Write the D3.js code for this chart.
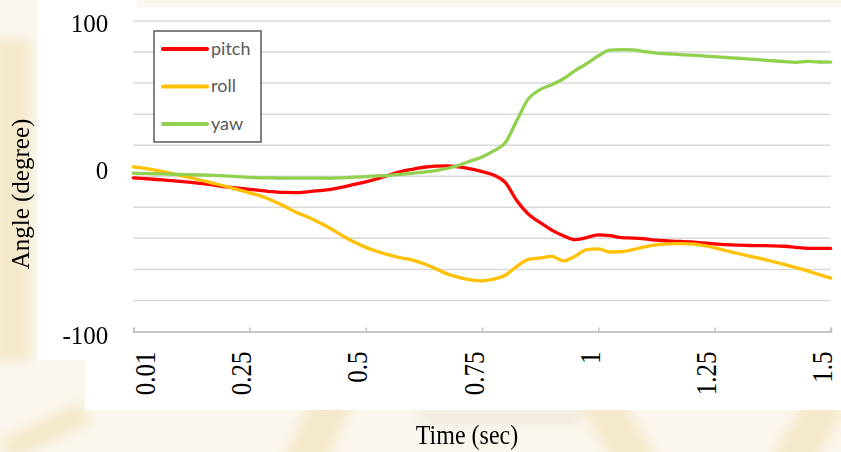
<!DOCTYPE html>
<html>
<head>
<meta charset="utf-8">
<script src="https://cdn.jsdelivr.net/npm/d3@7"></script>
<style>
  html, body { margin: 0; padding: 0; background: #fbf7ee; }
  svg { display: block; }
</style>
</head>
<body>
<script>
// Sample times (s) along the horizontal axis
const times = d3.range(0, 61).map(i => +(i * 0.025).toFixed(3));

// Attitude angles in degrees, one value per sample time
const pitch = [
  -1.0, -1.5, -2.1, -2.7, -3.3, -4.0, -4.7, -5.8, -6.9, -7.7,
  -8.4, -9.2, -9.9, -10.4, -10.5, -10.0, -9.3, -8.4, -7.0, -5.3,
  -3.6, -1.6, 0.8, 3.0, 4.5, 5.8, 6.5, 6.7, 6.0, 4.7,
  3.0, 0.8, -4.0, -15.8, -24.5, -29.8, -34.7, -38.3, -40.8, -39.5,
  -37.8, -38.2, -39.5, -39.8, -40.3, -41.2, -41.7, -42.0, -42.3, -43.0,
  -43.6, -44.1, -44.4, -44.6, -44.7, -44.8, -45.1, -45.8, -46.4, -46.4,
  -46.4
];
const roll = [
  6.0, 5.0, 3.8, 2.3, 0.6, -1.1, -2.9, -4.7, -6.6, -8.6,
  -10.7, -12.8, -15.8, -19.3, -23.2, -26.2, -29.8, -33.8, -38.3, -42.4,
  -45.8, -48.5, -50.6, -52.5, -54.0, -56.4, -59.5, -62.9, -65.1, -66.7,
  -67.4, -66.3, -63.8, -58.0, -53.5, -52.6, -51.6, -54.5, -51.5, -47.3,
  -46.8, -48.8, -48.6, -47.2, -45.5, -44.2, -43.5, -43.4, -43.5, -44.6,
  -46.0, -48.0, -49.7, -51.4, -53.0, -54.9, -56.8, -58.8, -60.9, -63.3,
  -65.6
];
const yaw = [
  2.0, 1.8, 1.6, 1.4, 1.2, 1.0, 0.8, 0.6, 0.3, -0.2,
  -0.7, -1.0, -1.1, -1.2, -1.2, -1.2, -1.2, -1.3, -1.0, -0.6,
  -0.2, 0.2, 0.6, 1.2, 1.9, 2.6, 3.6, 5.0, 7.0, 9.8,
  12.4, 16.3, 21.5, 36.0, 50.0, 55.8, 59.0, 62.8, 68.0, 72.5,
  77.5, 81.3, 81.6, 81.4, 80.2, 79.3, 78.9, 78.4, 78.0, 77.6,
  77.0, 76.5, 76.0, 75.5, 75.0, 74.4, 73.9, 73.4, 74.0, 73.6,
  73.5
];

const seriesNames = ["pitch", "roll", "yaw"];
const seriesColors = ["#ff0000", "#ffc000", "#92d050"];
const seriesValues = [pitch, roll, yaw];

// Axis ticks
const xTickValues = [0, 0.25, 0.5, 0.75, 1, 1.25, 1.5];
const xTickLabels = ["0.01", "0.25", "0.5", "0.75", "1", "1.25", "1.5"];
const yLabelValues = [100, 0, -100];
const yGridValues = [100, 80, 60, 40, 20, 0, -20, -40, -60, -80];

const W = 841, H = 452;
const plot = { left: 133.3, right: 830.7, top: 21, bottom: 331.5 };
const serif = "'Liberation Serif', 'Times New Roman', serif";

const svg = d3.select("body").append("svg")
  .attr("width", W).attr("height", H);

const defs = svg.append("defs");
defs.append("filter").attr("id", "soft")
  .attr("x", "-50%").attr("y", "-50%").attr("width", "200%").attr("height", "200%")
  .append("feGaussianBlur").attr("stdDeviation", 6);

// Faint backdrop pattern behind the chart panel
const deco = svg.append("g").attr("filter", "url(#soft)").attr("fill", "#f3e4bf").attr("opacity", 0.75);
deco.append("rect").attr("x", -6).attr("y", 40).attr("width", 36).attr("height", 320);
deco.append("rect").attr("x", 0).attr("y", 420).attr("width", 90).attr("height", 24)
  .attr("transform", "rotate(-25 45 432)");
deco.append("rect").attr("x", 260).attr("y", 418).attr("width", 110).attr("height", 40)
  .attr("transform", "rotate(-65 315 438)");
deco.append("rect").attr("x", 560).attr("y", 415).attr("width", 120).attr("height", 40)
  .attr("transform", "rotate(60 620 435)");
deco.append("rect").attr("x", 760).attr("y", 420).attr("width", 90).attr("height", 40)
  .attr("transform", "rotate(-60 805 440)");
deco.append("rect").attr("x", 420).attr("y", 412).attr("width", 160).attr("height", 10).attr("fill", "#e6e0d2");

// White chart panel
svg.append("rect").attr("x", 37).attr("y", 0).attr("width", 100).attr("height", 360).attr("fill", "#ffffff");
svg.append("rect").attr("x", 85).attr("y", 7).attr("width", 756).attr("height", 403).attr("fill", "#ffffff");

const x = d3.scaleLinear().domain([0, 1.5]).range([plot.left, plot.right]);
const y = d3.scaleLinear().domain([-100, 100]).range([plot.bottom, plot.top]);

// Horizontal gridlines
svg.append("g")
  .selectAll("line").data(yGridValues).join("line")
  .attr("x1", plot.left).attr("x2", plot.right)
  .attr("y1", d => y(d)).attr("y2", d => y(d))
  .attr("stroke", "#d9d9d9").attr("stroke-width", 1.5);

// Bottom axis with inward ticks; labels read upward, baseline on the tick
const xAxis = d3.axisBottom(x)
  .tickValues(xTickValues)
  .tickSize(-4)
  .tickFormat((d, i) => xTickLabels[i]);
const gx = svg.append("g").attr("transform", `translate(0,${plot.bottom})`).call(xAxis);
gx.select(".domain").attr("stroke", "#c4c4c4").attr("stroke-width", 2);
gx.selectAll(".tick line").attr("stroke", "#c4c4c4").attr("stroke-width", 1.5);
gx.selectAll(".tick text")
  .attr("font-family", serif)
  .attr("font-size", 25).attr("fill", "#000")
  .attr("transform", "rotate(-90) scale(1,1.15)")
  .attr("text-anchor", "end")
  .attr("x", -20)
  .attr("y", (d, i) => i === 0 ? 18 : 1)
  .attr("dy", 0);

// Left axis labels only (no axis line)
const yLabelShift = { "100": 2, "0": -6, "-100": 4 };
const yAxis = d3.axisLeft(y).tickValues(yLabelValues).tickSize(0).tickPadding(25)
  .tickFormat(d => String(d));
const gy = svg.append("g").attr("transform", `translate(${plot.left},0)`).call(yAxis);
gy.select(".domain").remove();
gy.selectAll(".tick text")
  .attr("font-family", serif)
  .attr("font-size", 25).attr("fill", "#000")
  .attr("y", d => yLabelShift[String(d)]);

// Series lines
const line = d3.line()
  .x((d, i) => x(times[i]))
  .y(d => y(d))
  .curve(d3.curveMonotoneX);

svg.append("g").selectAll("path").data(seriesValues).join("path")
  .attr("d", d => line(d))
  .attr("fill", "none")
  .attr("stroke", (d, i) => seriesColors[i])
  .attr("stroke-width", 3.3)
  .attr("stroke-linejoin", "round")
  .attr("stroke-linecap", "round");

// Legend
const lg = svg.append("g");
lg.append("rect").attr("x", 154).attr("y", 31).attr("width", 107).attr("height", 111)
  .attr("fill", "#ffffff").attr("stroke", "#5a5a5a").attr("stroke-width", 1.5);
const items = lg.selectAll("g.item").data(seriesNames).join("g")
  .attr("class", "item")
  .attr("transform", (d, i) => `translate(0,${49 + i * 37.5})`);
items.append("line").attr("x1", 163).attr("x2", 207).attr("y1", 0).attr("y2", 0)
  .attr("stroke", (d, i) => seriesColors[i]).attr("stroke-width", 4).attr("stroke-linecap", "round");
items.append("text").attr("x", 211).attr("y", 0).attr("dy", "0.33em")
  .attr("font-family", "Lato, 'Open Sans', sans-serif").attr("font-size", 18)
  .attr("fill", "#595959").text(d => d);

// Axis titles
svg.append("text")
  .attr("transform", "translate(467,444) scale(1,1.1)")
  .attr("text-anchor", "middle")
  .attr("font-family", serif)
  .attr("font-size", 24).attr("fill", "#000")
  .text("Time (sec)");
svg.append("text")
  .attr("transform", "translate(29,194) rotate(-90)")
  .attr("text-anchor", "middle")
  .attr("font-family", serif)
  .attr("font-size", 25).attr("fill", "#000")
  .text("Angle (degree)");
</script>
</body>
</html>
